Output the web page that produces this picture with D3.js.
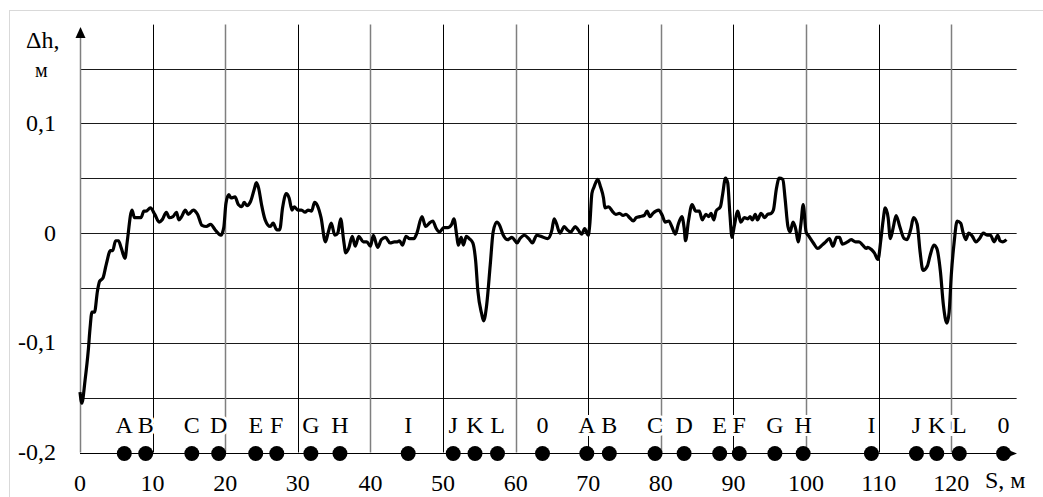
<!DOCTYPE html>
<html>
<head>
<meta charset="utf-8">
<script src="https://cdn.jsdelivr.net/npm/d3@7"></script>
<style>
    body { margin: 0; background: #fff; }
</style>
</head>
<body>
<svg id="chart" width="1043" height="497"></svg>
<script>
// Distance along the track, m
const sValues = [
    0.0, 0.25, 0.7, 1.14, 1.38, 1.65, 2.0, 2.4, 2.7, 3.16, 3.6, 4.2, 4.5, 4.9, 5.3, 5.7, 6.2, 6.5,
    7.16, 7.5, 8.0, 8.4, 8.8, 9.1, 9.7, 10.3, 10.9, 11.3, 11.9, 12.3, 12.8, 13.3, 13.6, 14.0, 14.5,
    14.9, 15.6, 16.2, 16.8, 17.4, 18.0, 18.6, 19.4, 19.8, 20.1, 20.5, 20.8, 21.35, 21.8, 22.3, 22.6,
    23.0, 23.5, 24.0, 24.3, 24.6, 25.0, 25.5, 26.2, 26.6, 27.1, 27.5, 27.9, 28.4, 28.8, 29.2, 29.5,
    30.0, 30.5, 31.0, 31.4, 31.9, 32.3, 32.7, 33.2, 33.8, 34.2, 34.6, 35.1, 35.5, 35.9, 36.3, 36.6,
    37.0, 37.5, 37.9, 38.4, 39.0, 39.5, 40.0, 40.4, 41.0, 41.5, 42.1, 42.7, 43.3, 43.7, 44.0, 44.4,
    44.9, 45.4, 46.0, 46.4, 47.1, 47.6, 48.1, 48.6, 49.0, 49.5, 50.1, 50.7, 51.2, 51.5, 51.9, 52.1,
    52.5, 52.8, 53.2, 53.6, 54.1, 54.5, 54.8, 55.3, 55.6, 56.0, 56.5, 56.9, 57.4, 57.8, 58.3, 58.9,
    59.5, 60.2, 60.6, 61.2, 61.8, 62.3, 62.9, 63.5, 64.4, 65.0, 65.3, 65.6, 66.1, 66.7, 67.1, 67.6,
    68.2, 68.6, 69.1, 69.5, 70.0, 70.2, 70.5, 70.8, 71.3, 71.7, 72.1, 72.3, 72.8, 73.3, 73.8, 74.3,
    74.8, 75.2, 75.7, 76.2, 76.6, 77.1, 77.7, 78.1, 78.5, 78.9, 79.7, 80.2, 80.6, 81.1, 81.5, 82.0,
    82.4, 82.9, 83.2, 83.4, 83.8, 84.3, 84.8, 85.3, 85.7, 86.2, 86.6, 86.9, 87.3, 87.6, 88.2, 88.5,
    88.9, 89.2, 89.5, 89.8, 90.1, 90.6, 91.0, 91.5, 92.0, 92.3, 92.6, 93.0, 93.3, 93.8, 94.3, 94.7,
    95.2, 95.5, 95.9, 96.3, 96.8, 97.1, 97.5, 97.8, 98.2, 98.6, 98.9, 99.3, 99.6, 100.0, 100.4, 101.0,
    101.6, 102.2, 102.7, 103.2, 103.7, 104.2, 104.6, 105.0, 105.7, 106.2, 106.8, 107.3, 107.8, 108.3,
    108.5, 109.0, 109.4, 109.9, 110.3, 110.6, 110.9, 111.3, 111.6, 112.0, 112.4, 112.9, 113.5, 113.9,
    114.4, 114.8, 115.3, 115.7, 116.1, 116.7, 117.1, 117.6, 118.0, 118.5, 118.9, 119.4, 119.7, 120.0,
    120.4, 120.8, 121.3, 121.6, 122.0, 122.4, 122.9, 123.4, 123.9, 124.4, 125.0, 125.4, 125.9, 126.4,
    126.7, 127.1, 127.6
];

// Height deviation, m
const dhValues = [
    -0.145, -0.155, -0.134, -0.107, -0.087, -0.072, -0.072, -0.053, -0.044, -0.041, -0.029, -0.016, -0.016, -0.007, -0.007, -0.014, -0.023, -0.008,
    0.021, 0.014, 0.014, 0.014, 0.020, 0.020, 0.023, 0.017, 0.010, 0.012, 0.019, 0.014, 0.015, 0.019, 0.012, 0.015, 0.021,
    0.017, 0.021, 0.017, 0.007, 0.006, 0.008, 0.003, -0.002, 0.005, 0.027, 0.035, 0.032, 0.033, 0.026, 0.024, 0.028,
    0.025, 0.029, 0.040, 0.046, 0.041, 0.026, 0.012, 0.006, 0.009, 0.003, 0.003, 0.023, 0.036, 0.032, 0.021, 0.024,
    0.021, 0.021, 0.019, 0.021, 0.020, 0.028, 0.025, 0.014, -0.008, 0.001, 0.009, -0.002, 0.000, 0.013, -0.006, -0.018,
    -0.014, -0.003, -0.012, -0.003, -0.008, -0.008, -0.012, -0.002, -0.013, -0.006, -0.004, -0.009, -0.008, -0.008, -0.007, -0.011,
    -0.003, -0.005, -0.005, 0.000, 0.015, 0.006, 0.009, 0.011, 0.005, 0.001, 0.005, 0.005, 0.008, 0.013, -0.003, -0.011,
    -0.004, -0.011, -0.003, -0.005, -0.009, -0.026, -0.053, -0.073, -0.080, -0.066, -0.029, 0.001, 0.010, 0.007, -0.002, -0.006,
    -0.004, -0.009, -0.005, -0.002, -0.005, -0.009, -0.002, -0.003, -0.005, 0.003, 0.013, 0.009, 0.000, 0.006, 0.003, 0.001,
    0.006, 0.003, -0.001, 0.004, -0.002, 0.007, 0.036, 0.042, 0.049, 0.042, 0.032, 0.023, 0.024, 0.020, 0.017, 0.018,
    0.016, 0.017, 0.014, 0.011, 0.014, 0.015, 0.016, 0.020, 0.015, 0.018, 0.021, 0.016, 0.010, 0.011, 0.006, -0.001,
    0.008, 0.015, 0.005, -0.007, 0.011, 0.026, 0.020, 0.020, 0.012, 0.017, 0.015, 0.018, 0.012, 0.020, 0.024, 0.035,
    0.050, 0.046, 0.018, -0.004, 0.006, 0.020, 0.010, 0.014, 0.013, 0.015, 0.012, 0.017, 0.012, 0.018, 0.014, 0.017,
    0.018, 0.021, 0.040, 0.050, 0.049, 0.032, 0.006, 0.001, 0.010, 0.003, -0.008, 0.009, 0.026, 0.001, -0.003, -0.009,
    -0.014, -0.011, -0.008, -0.005, -0.012, -0.004, -0.004, -0.010, -0.008, -0.006, -0.008, -0.008, -0.011, -0.014,
    -0.013, -0.015, -0.018, -0.024, -0.006, 0.011, 0.023, 0.014, -0.005, 0.005, 0.016, 0.006, -0.005, -0.006,
    0.003, 0.014, 0.008, -0.017, -0.034, -0.030, -0.020, -0.011, -0.014, -0.035, -0.065, -0.082, -0.072, -0.038,
    -0.008, 0.011, 0.009, 0.001, -0.006, 0.000, -0.003, -0.008, -0.005, 0.000, -0.002, -0.002, -0.008, -0.002,
    -0.007, -0.008, -0.006
];

// Reference points along the track
const markerNames = ['A', 'B', 'C', 'D', 'E', 'F', 'G', 'H', 'I', 'J', 'K', 'L', '0',
                     'A', 'B', 'C', 'D', 'E', 'F', 'G', 'H', 'I', 'J', 'K', 'L', '0'];
const markerS = [6.1, 9.05, 15.4, 19.1, 24.2, 27.1, 31.8, 35.8, 45.2, 51.4, 54.4, 57.5, 63.7,
                 69.8, 72.9, 79.2, 83.2, 88.1, 90.8, 95.7, 99.6, 109.0, 115.2, 118.0, 121.1, 127.2];

// Axis ticks
const xTicks = [0, 10, 20, 30, 40, 50, 60, 70, 80, 90, 100, 110, 120];
const yGrid = [0.15, 0.1, 0.05, 0, -0.05, -0.1, -0.15, -0.2];
const yTicks = [0.1, 0, -0.1, -0.2];
const yTickLabels = ['0,1', '0', '-0,1', '-0,2'];

const FONT = 'Liberation Serif';

const svg = d3.select('#chart');

// helper for plain text labels
function addText(parent, px, py, size, str) {
    return parent.append('text')
        .attr('x', px).attr('y', py)
        .attr('font-family', FONT)
        .attr('font-size', size)
        .attr('fill', '#000')
        .text(str);
}

// outer frame
svg.append('rect')
    .attr('x', 9.5).attr('y', 10.5)
    .attr('width', 1040).attr('height', 500)
    .attr('fill', 'none')
    .attr('stroke', '#d9d9d9');

const x = d3.scaleLinear().domain([0, 120]).range([80, 951.3]);
const y = d3.scaleLinear().domain([-0.2, 0.15]).range([452.5, 68.5]);

const xEnd = x(129);
const yTop = y(0.19);

// horizontal grid
svg.append('g').selectAll('line')
    .data(yGrid.filter(d => d > -0.2))
    .enter().append('line')
    .attr('x1', x(0)).attr('x2', xEnd)
    .attr('y1', d => Math.round(y(d)) + 0.5)
    .attr('y2', d => Math.round(y(d)) + 0.5)
    .attr('stroke', '#1a1a1a')
    .attr('stroke-width', 1);

// vertical grid, every other line is gray
svg.append('g').selectAll('line')
    .data(xTicks.filter(d => d > 0))
    .enter().append('line')
    .attr('x1', d => Math.round(x(d)) + 0.5)
    .attr('x2', d => Math.round(x(d)) + 0.5)
    .attr('y1', yTop).attr('y2', y(-0.2))
    .attr('stroke', d => (d / 10) % 2 === 1 ? '#000' : '#7f7f7f')
    .attr('stroke-width', d => (d / 10) % 2 === 1 ? 1 : 1.5);

// y axis with arrow
svg.append('line')
    .attr('x1', 80.5).attr('x2', 80.5)
    .attr('y1', y(-0.2)).attr('y2', 36)
    .attr('stroke', '#7f7f7f').attr('stroke-width', 1.5);
svg.append('path')
    .attr('d', 'M80.5,27 L75.5,38 L85.5,38 Z')
    .attr('fill', '#000');

// x axis with arrow
const axisY = Math.round(y(-0.2)) + 0.5;
svg.append('line')
    .attr('x1', x(0)).attr('x2', 1010)
    .attr('y1', axisY).attr('y2', axisY)
    .attr('stroke', '#000').attr('stroke-width', 1);
svg.append('path')
    .attr('d', `M1017,${axisY} L1007,${axisY - 4} L1007,${axisY + 4} Z`)
    .attr('fill', '#000');

// y tick labels
const yLabels = svg.append('g');
yTicks.forEach((t, i) => {
    addText(yLabels, 56, y(t) + 7.5, 24, yTickLabels[i]).attr('text-anchor', 'end');
});

// x tick labels
const xLabels = svg.append('g');
xTicks.forEach(t => {
    addText(xLabels, x(t), 491, 24, t).attr('text-anchor', 'middle');
});

// axis titles
addText(svg, 26, 48, 24, 'Δh,');
addText(svg, 35, 77, 20, 'м');
addText(svg, 985, 488, 24, 'S, м');

// profile line
const points = sValues.map((s, i) => [s, dhValues[i]]);
const line = d3.line()
    .x(d => x(d[0]))
    .y(d => y(d[1]))
    .curve(d3.curveMonotoneX);

svg.append('path')
    .datum(points)
    .attr('d', line)
    .attr('fill', 'none')
    .attr('stroke', '#000')
    .attr('stroke-width', 3.2)
    .attr('stroke-linejoin', 'round');

// marker labels with a white halo so grid lines break behind them
const markerLabels = svg.append('g');
markerS.forEach((s, i) => {
    addText(markerLabels, x(s), 433, 24, markerNames[i])
        .attr('text-anchor', 'middle')
        .attr('stroke', '#fff')
        .attr('stroke-width', 6)
        .attr('paint-order', 'stroke');
});

// marker dots
svg.append('g').selectAll('circle')
    .data(markerS)
    .enter().append('circle')
    .attr('cx', d => x(d))
    .attr('cy', axisY)
    .attr('r', 7.5)
    .attr('fill', '#000');
</script>
</body>
</html>
